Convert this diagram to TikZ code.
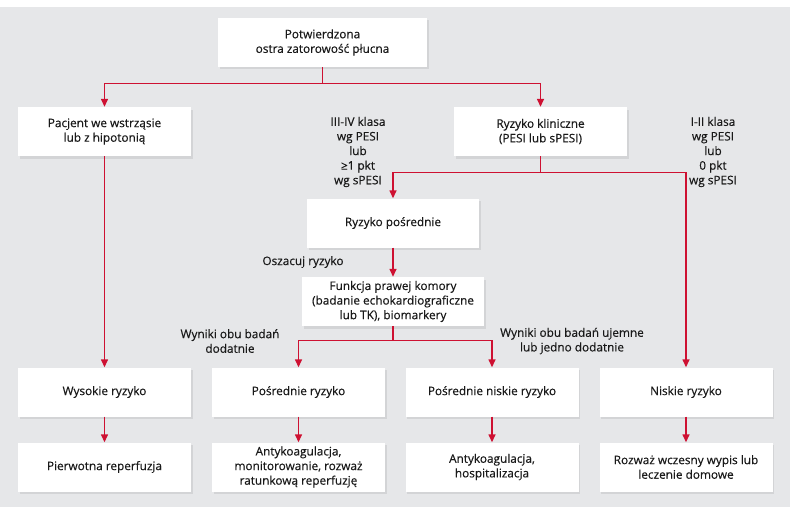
\documentclass[tikz,border=0pt]{standalone}
\usepackage{fontspec}
\setmainfont{Open Sans}[FakeBold=0.35]
\usetikzlibrary{arrows.meta,shadows}
\definecolor{arrred}{RGB}{206,17,50}
\definecolor{panel}{RGB}{230,231,233}

\begin{document}
\begin{tikzpicture}
  [x=1pt,y=-1pt,
   every node/.style={font=\fontsize{11.8}{14.6}\selectfont,align=center,text=black!90},
   box/.style={fill=white,minimum width=173pt,minimum height=49pt,inner sep=2pt,
     drop shadow={shadow xshift=1.5pt,shadow yshift=-2.5pt,opacity=.18}},
   arr/.style={draw=arrred,line width=1.4pt,-{Triangle[width=7pt,length=8pt]}}]
  \useasboundingbox (0,0) rectangle (800,511);
  \fill[panel] (0,7) rectangle (790,507);

  \node[box,minimum width=209pt] (top) at (322.5,42.5) {Potwierdzona\\ostra zatorowość płucna};
  \node[box] (pac) at (104.5,131.5) {Pacjent we wstrząsie\\lub z hipotonią};
  \node[box] (kli) at (540.5,131.5) {Ryzyko kliniczne\\(PESI lub sPESI)};
  \node[box,minimum width=172pt] (posr) at (393,223) {Ryzyko pośrednie};
  \node[box,minimum width=182pt] (funk) at (393,301.5) {Funkcja prawej komory\\(badanie echokardiograficzne\\lub TK), biomarkery};

  \node[box] (wys) at (104.5,392) {Wysokie ryzyko};
  \node[box] (pos) at (298.5,392) {Pośrednie ryzyko};
  \node[box] (pni) at (492,392) {Pośrednie niskie ryzyko};
  \node[box] (nis) at (686,392) {Niskie ryzyko};
  \node[box] (pie) at (104.5,467) {Pierwotna reperfuzja};
  \node[box] (ant) at (298.5,467) {Antykoagulacja,\\monitorowanie, rozważ\\ratunkową reperfuzję};
  \node[box] (hos) at (492,467) {Antykoagulacja,\\hospitalizacja};
  \node[box] (roz) at (686,467) {Rozważ wczesny wypis lub\\leczenie domowe};

  \node (wysl) at (358,152) {III-IV klasa\\wg PESI\\lub\\≥1 pkt\\wg sPESI};
  \node (nisl) at (713,152) {I-II klasa\\wg PESI\\lub\\0 pkt\\wg sPESI};
  \node (osz) at (303,262) {Oszacuj ryzyko};
  \node (dod) at (230,341) {Wyniki obu badań\\dodatnie};
  \node (uje) at (572,341) {Wyniki obu badań ujemne\\lub jedno dodatnie};

  \draw[arr] (top.south) -- ++(0,16) -| (pac.north);
  \draw[arr] (top.south) -- ++(0,16) -| (kli.north);
  \draw[arr] (kli.south) -- ++(0,16) -| (posr.north);
  \draw[arr] (kli.south) -- ++(0,16) -| (nis.north);
  \draw[arr] (funk.south) -- ++(0,14) -| (pos.north);
  \draw[arr] (funk.south) -- ++(0,14) -| (pni.north);

  \foreach \from/\to in {pac/wys,posr/funk,wys/pie,pos/ant,pni/hos,nis/roz}
    \draw[arr] (\from) -- (\to);

\end{tikzpicture}
\end{document}
